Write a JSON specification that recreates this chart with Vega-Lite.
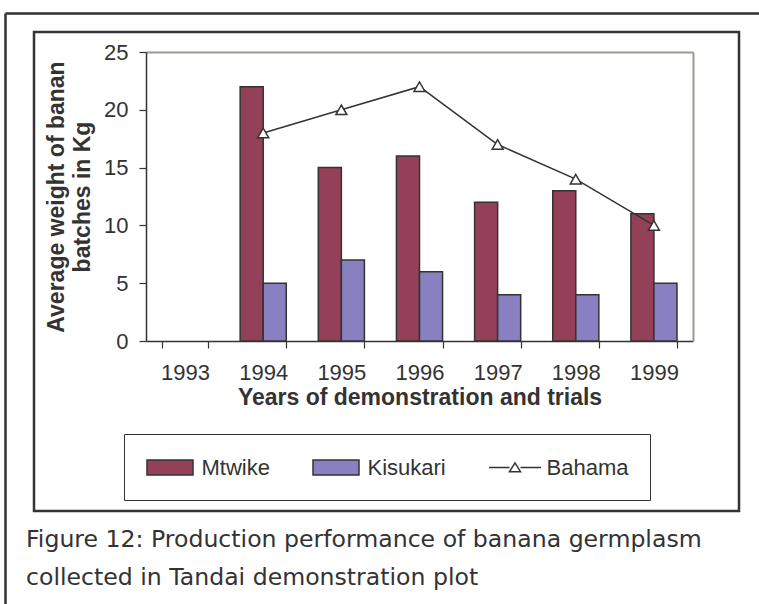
{
  "$schema": "https://vega.github.io/schema/vega-lite/v6.json",
  "width": 705,
  "height": 479,
  "autosize": "none",
  "padding": {"left": 34, "top": 32, "right": 20, "bottom": 93},
  "background": "#ffffff",
  "view": {"stroke": "#333333", "strokeWidth": 2.5},
  "config": {
    "font": "Liberation Sans",
    "axis": {"labelFont": "Liberation Sans", "titleFont": "Liberation Sans", "labelColor": "#333333", "titleColor": "#333333"},
    "legend": {"labelFont": "Liberation Sans"}
  },
  "title": {
    "text": ["Figure 12: Production performance of banana germplasm", "collected in Tandai demonstration plot"],
    "orient": "bottom",
    "anchor": "start",
    "frame": "group",
    "font": "DejaVu Sans",
    "fontSize": 23.6,
    "fontWeight": "normal",
    "color": "#333333",
    "lineHeight": 38,
    "offset": -95,
    "dx": -8
  },
  "datasets": {
    "bars": [
      {"year": "1994", "variety": "Mtwike", "value": 22},
      {"year": "1994", "variety": "Kisukari", "value": 5},
      {"year": "1995", "variety": "Mtwike", "value": 15},
      {"year": "1995", "variety": "Kisukari", "value": 7},
      {"year": "1996", "variety": "Mtwike", "value": 16},
      {"year": "1996", "variety": "Kisukari", "value": 6},
      {"year": "1997", "variety": "Mtwike", "value": 12},
      {"year": "1997", "variety": "Kisukari", "value": 4},
      {"year": "1998", "variety": "Mtwike", "value": 13},
      {"year": "1998", "variety": "Kisukari", "value": 4},
      {"year": "1999", "variety": "Mtwike", "value": 11},
      {"year": "1999", "variety": "Kisukari", "value": 5}
    ],
    "bahama": [
      {"year": "1994", "variety": "Bahama", "value": 18},
      {"year": "1995", "variety": "Bahama", "value": 20},
      {"year": "1996", "variety": "Bahama", "value": 22},
      {"year": "1997", "variety": "Bahama", "value": 17},
      {"year": "1998", "variety": "Bahama", "value": 14},
      {"year": "1999", "variety": "Bahama", "value": 10}
    ]
  },
  "layer": [
    {
      "layer": [
        {
          "data": {"name": "bars"},
          "mark": {"type": "bar", "stroke": "#333333", "strokeWidth": 1.5},
          "encoding": {
            "x": {
              "field": "year", "type": "nominal",
              "scale": {"domain": ["1993", "1994", "1995", "1996", "1997", "1998", "1999"], "range": [112, 659], "paddingInner": 0.41, "paddingOuter": 0.205},
              "axis": {
                "orient": "bottom", "offset": -170,
                "title": "Years of demonstration and trials",
                "titleFontSize": 23, "titleFontWeight": "bold", "titlePadding": 3,
                "labelFontSize": 22, "labelPadding": 14, "labelAngle": 0,
                "tickBand": "extent", "tickSize": 7, "tickColor": "#333333", "tickWidth": 1.2,
                "domainColor": "#333333", "domainWidth": 1.5, "grid": false
              }
            },
            "xOffset": {"field": "variety", "type": "nominal", "scale": {"domain": ["Mtwike", "Kisukari"]}},
            "y": {
              "field": "value", "type": "quantitative",
              "scale": {"domain": [0, 25], "range": [309, 20], "nice": false, "zero": true},
              "axis": {
                "orient": "left", "offset": -112,
                "values": [0, 5, 10, 15, 20, 25],
                "title": ["Average weight of banan", "batches in Kg"],
                "titleFontSize": 23, "titleFontWeight": "bold", "titlePadding": 9, "titleLineHeight": 26,
                "labelFontSize": 22, "labelPadding": 11,
                "tickSize": 7, "tickColor": "#333333", "tickWidth": 1.2,
                "domainColor": "#333333", "domainWidth": 1.5, "grid": false
              }
            },
            "fill": {
              "field": "variety", "type": "nominal",
              "scale": {"domain": ["Mtwike", "Kisukari", "Bahama"], "range": ["#944058", "#8880c0", "#ffffff"]},
              "legend": {
                "orient": "none", "legendX": 90, "legendY": 402,
                "direction": "horizontal", "title": null,
                "strokeColor": "#333333", "padding": 21.5,
                "labelFontSize": 22, "labelColor": "#333333", "labelOffset": 19.5,
                "columnPadding": 39,
                "symbolSize": 484, "symbolOffset": 12.5,
                "symbolStrokeColor": "#333333", "symbolStrokeWidth": 1.5,
                "symbolType": "M-2.091,-0.682H2.091V0.682H-2.091Z",
                "encode": {
                  "symbols": {
                    "update": {
                      "shape": {"signal": "datum.value === 'Bahama' ? 'M-2.364,0H-0.5M0.5,0H2.364M-0.5,0.38L0,-0.42L0.5,0.38Z' : 'M-2.091,-0.682H2.091V0.682H-2.091Z'"}
                    }
                  }
                }
              }
            }
          }
        },
        {
          "data": {"name": "bahama"},
          "mark": {"type": "line", "stroke": "#333333", "strokeWidth": 1.5},
          "encoding": {
            "x": {"field": "year", "type": "nominal", "scale": {"domain": ["1993", "1994", "1995", "1996", "1997", "1998", "1999"], "range": [112, 659], "paddingInner": 0.41, "paddingOuter": 0.205}, "axis": null},
            "y": {"field": "value", "type": "quantitative", "scale": {"domain": [0, 25], "range": [309, 20], "nice": false, "zero": true}, "axis": null}
          }
        },
        {
          "data": {"name": "bahama"},
          "mark": {"type": "point", "shape": "triangle-up", "size": 120, "filled": true, "opacity": 1, "stroke": "#333333", "strokeWidth": 1.5},
          "encoding": {
            "x": {"field": "year", "type": "nominal", "scale": {"domain": ["1993", "1994", "1995", "1996", "1997", "1998", "1999"], "range": [112, 659], "paddingInner": 0.41, "paddingOuter": 0.205}, "axis": null},
            "y": {"field": "value", "type": "quantitative", "scale": {"domain": [0, 25], "range": [309, 20], "nice": false, "zero": true}, "axis": null},
            "fill": {"field": "variety", "type": "nominal", "scale": {"domain": ["Mtwike", "Kisukari", "Bahama"], "range": ["#944058", "#8880c0", "#ffffff"]}}
          }
        },
        {
          "data": {"name": "bahama"},
          "mark": {"type": "point", "opacity": 0},
          "encoding": {
            "x": {"field": "year", "type": "nominal", "scale": {"domain": ["1993", "1994", "1995", "1996", "1997", "1998", "1999"], "range": [112, 659], "paddingInner": 0.41, "paddingOuter": 0.205},
              "axis": {"orient": "top", "offset": -20, "domainColor": "#a09890", "domainWidth": 2, "ticks": false, "labels": false, "title": null, "grid": false}},
            "y": {"field": "value", "type": "quantitative", "scale": {"domain": [0, 25], "range": [309, 20], "nice": false, "zero": true},
              "axis": {"orient": "right", "offset": -46, "domainColor": "#a09890", "domainWidth": 2, "ticks": false, "labels": false, "title": null, "grid": false}}
          }
        }
      ],
      "resolve": {"axis": {"x": "independent", "y": "independent"}}
    },
    {
      "data": {"values": [{"frame": 0}]},
      "mark": {"type": "point", "opacity": 0},
      "encoding": {
        "x": {"datum": 0, "type": "quantitative", "scale": {"domain": [0, 1], "range": [-29, 725], "zero": false, "nice": false},
          "axis": {"orient": "top", "offset": 19, "domainColor": "#333333", "domainWidth": 2.5, "ticks": false, "labels": false, "title": null, "grid": false}},
        "y": {"datum": 0, "type": "quantitative", "scale": {"domain": [0, 1], "range": [572, -19], "zero": false, "nice": false},
          "axis": {"orient": "left", "offset": 29, "domainColor": "#333333", "domainWidth": 2.5, "ticks": false, "labels": false, "title": null, "grid": false}}
      }
    }
  ],
  "resolve": {"scale": {"x": "independent", "y": "independent"}, "axis": {"x": "independent", "y": "independent"}}
}
